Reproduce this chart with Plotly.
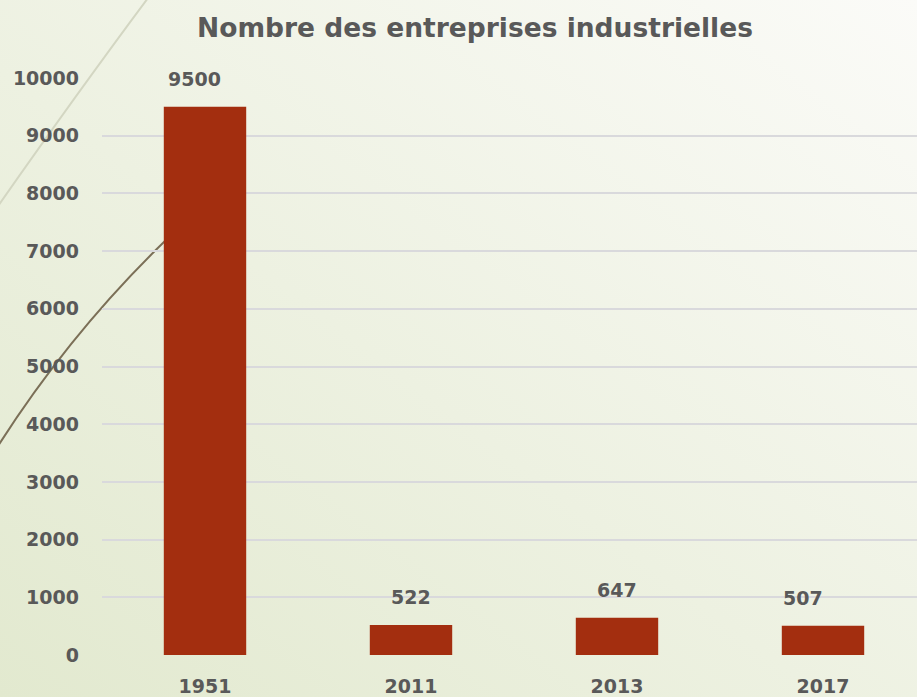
import base64
import plotly.graph_objects as go

# ---- data ----
years = ["1951", "2011", "2013", "2017"]
counts = [9500, 522, 647, 507]
label_xshift = [-11, 0, 0, -20]

title_text = "Nombre des entreprises industrielles"
y_ticks = [0, 1000, 2000, 3000, 4000, 5000, 6000, 7000, 8000, 9000, 10000]

W, H = 917, 697
L, R, T, B = 102, 0, 78, 42
pw, ph = W - L - R, H - T - B

TXT = "#595959"
BAR = "#A32E0F"
FONT = "DejaVu Sans"

# background: diagonal gradient + decorative curves, as an SVG image
svg = f'''<svg xmlns="http://www.w3.org/2000/svg" width="{W}" height="{H}" viewBox="0 0 {W} {H}" preserveAspectRatio="none">
<defs><linearGradient id="g" x1="0" y1="1" x2="1" y2="0">
<stop offset="0" stop-color="#e2e9cf"/>
<stop offset="0.45" stop-color="#edf1e1"/>
<stop offset="1" stop-color="#fbfbf8"/>
</linearGradient></defs>
<rect x="0" y="0" width="{W}" height="{H}" fill="url(#g)"/>
<path d="M 148 -2 Q 78 92 -2 206" stroke="#d3d6c2" stroke-width="2" fill="none"/>
<path d="M 166 240 Q 70 333 -2 446" stroke="#7b6f57" stroke-width="2" fill="none"/>
</svg>'''
src = "data:image/svg+xml;base64," + base64.b64encode(svg.encode()).decode()

fig = go.Figure()
fig.add_trace(go.Bar(
    x=years, y=counts, width=0.4,
    marker=dict(color=BAR, line=dict(width=0)),
    hoverinfo="skip",
))

for i, v in enumerate(counts):
    fig.add_annotation(
        x=i, y=v, text=f"<b>{v}</b>", showarrow=False,
        yanchor="middle", yshift=28, xshift=label_xshift[i],
        font=dict(family=FONT, size=19, color=TXT),
    )

fig.add_layout_image(dict(
    source=src, xref="paper", yref="paper",
    x=-L / pw, y=1 + T / ph, sizex=W / pw, sizey=H / ph,
    xanchor="left", yanchor="top", sizing="stretch", layer="below",
))

fig.update_layout(
    width=W, height=H,
    margin=dict(l=L, r=R, t=T, b=B, pad=0),
    paper_bgcolor="#f2f4ea", plot_bgcolor="rgba(0,0,0,0)",
    showlegend=False,
    title=dict(
        text=f"<b>{title_text}</b>", x=475 / W, xanchor="center",
        y=1 - 28 / H, yanchor="middle",
        font=dict(family=FONT, size=26.5, color=TXT),
    ),
    xaxis=dict(
        type="category",
        range=[-0.5, -0.5 + pw / 206], showgrid=False, zeroline=False,
        showline=False, ticks="", ticklabelstandoff=18,
        tickfont=dict(family=FONT, size=19, color=TXT),
        tickprefix="<b>", ticksuffix="</b>", fixedrange=True,
    ),
    yaxis=dict(
        range=[0, 10000], tickvals=y_ticks,
        ticktext=[f"<b>{t}</b>" for t in y_ticks],
        showgrid=True, gridcolor="#d9d9dc", gridwidth=1.5,
        zeroline=False, showline=False, ticks="", ticklabelstandoff=22,
        tickfont=dict(family=FONT, size=19, color=TXT), fixedrange=True,
    ),
)

fig.write_html(
    "out.html",
    config={"displayModeBar": False},
    post_script="document.body.style.margin='0';document.body.style.overflow='hidden';",
)
